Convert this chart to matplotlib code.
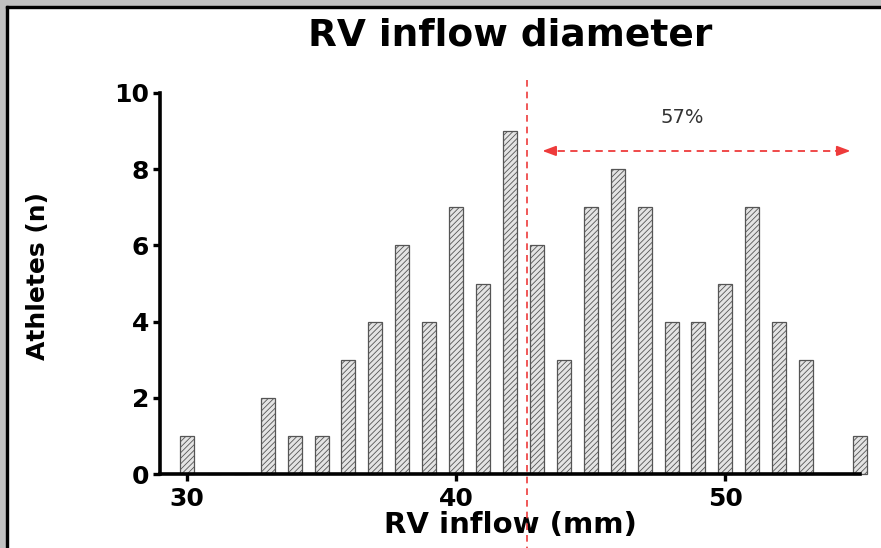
import matplotlib
matplotlib.use("Agg")
import matplotlib.pyplot as plt
from matplotlib.patches import Rectangle

plt.rcParams['font.family'] = ['DejaVu Sans']
plt.rcParams['hatch.linewidth'] = 0.6

# histogram data: RV inflow diameter (mm) vs number of athletes
diameter = [30, 31, 32, 33, 34, 35, 36, 37, 38, 39, 40, 41, 42,
            43, 44, 45, 46, 47, 48, 49, 50, 51, 52, 53, 54, 55]
athletes = [1, 0, 0, 2, 1, 1, 3, 4, 6, 4, 7, 5, 9,
            6, 3, 7, 8, 7, 4, 4, 5, 7, 4, 3, 0, 1]
cutoff = 42.65
pct_label = "57%"

fig = plt.figure(figsize=(8.81, 5.48), dpi=100)
fig.patch.set_facecolor('white')

# gray frame top/left like the screenshot
fig.patches.append(Rectangle((0, 1 - 6/548), 1, 6/548, transform=fig.transFigure,
                             color='#c0c0c0', zorder=0))
fig.patches.append(Rectangle((0, 0), 6/881, 1, transform=fig.transFigure,
                             color='#c0c0c0', zorder=0))
fig.patches.append(Rectangle((6/881, 1 - 8/548), 1, 2/548, transform=fig.transFigure,
                             color='black', zorder=1))
fig.patches.append(Rectangle((6/881, 0), 2/881, 1 - 6/548, transform=fig.transFigure,
                             color='black', zorder=1))

ax = fig.add_axes([160/881, 1 - 474/548, 700/881, 381/548])

ax.bar(diameter, athletes, width=0.52, facecolor='#e4e4e4', edgecolor='#555555',
       hatch='//////', linewidth=0.9, clip_on=False, zorder=2)

ax.set_xlim(29, 55)
ax.set_ylim(0, 10)
ax.set_xticks([30, 40, 50])
ax.set_yticks([0, 2, 4, 6, 8, 10])

for s in ['top', 'right']:
    ax.spines[s].set_visible(False)
for s in ['left', 'bottom']:
    ax.spines[s].set_linewidth(2.6)
ax.tick_params(axis='both', width=2.4, length=5, direction='out', labelsize=18)
ax.tick_params(axis='x', pad=4)
ax.tick_params(axis='y', pad=3)
for lab in ax.get_xticklabels() + ax.get_yticklabels():
    lab.set_fontweight('bold')

ax.set_title("RV inflow diameter", fontsize=27, fontweight='bold', pad=0,
             y=1 + (93 - 35) / 381, va='center')
ax.set_xlabel("RV inflow (mm)", fontsize=21, fontweight='bold', va='baseline')
ax.xaxis.set_label_coords(0.5, -(533 - 474) / 381)
ax.set_ylabel("Athletes (n)", fontsize=18, fontweight='bold', va='center')
ax.yaxis.set_label_coords(-(160 - 38) / 700, (474 - 276) / 381)

red = '#ee3b3b'
# vertical cut-off line running past the axes
ax.plot([cutoff, cutoff], [10.35, -1.95], color=red, lw=1.2, ls=(0, (4, 3)),
        clip_on=False, zorder=3)
# dashed double arrow
ax.plot([43.3, 54.5], [8.48, 8.48], color=red, lw=1.3, ls=(0, (4, 3)), zorder=3)
ax.annotate('', xy=(43.1, 8.48), xytext=(43.8, 8.48),
            arrowprops=dict(arrowstyle='-|>,head_length=0.8,head_width=0.3',
                            color=red, lw=1.3))
ax.annotate('', xy=(54.75, 8.48), xytext=(54.0, 8.48),
            arrowprops=dict(arrowstyle='-|>,head_length=0.8,head_width=0.3',
                            color=red, lw=1.3), annotation_clip=False)
ax.text(48.4, 9.35, pct_label, fontsize=14, color='#333333', ha='center', va='center')

fig.savefig("out.png", dpi=100)
